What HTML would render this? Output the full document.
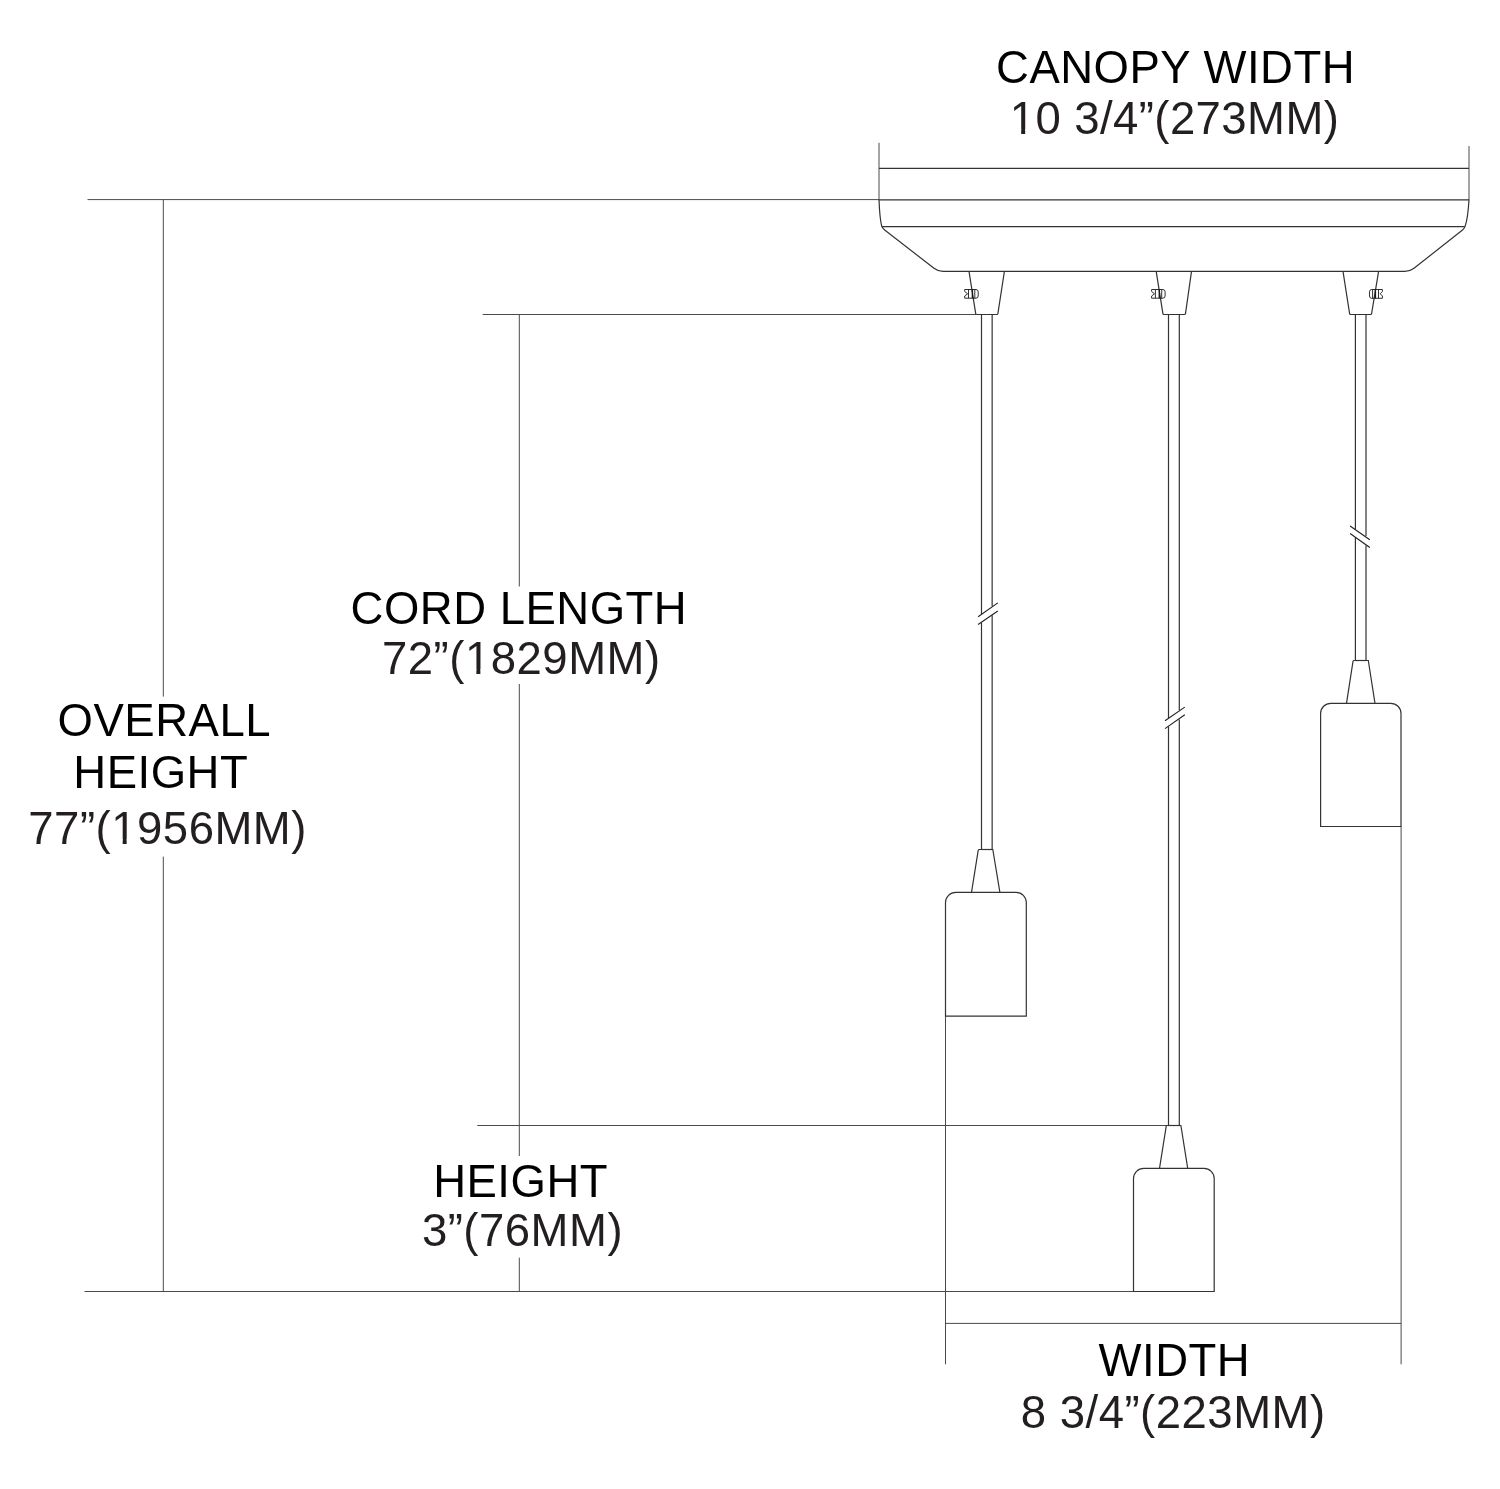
<!DOCTYPE html>
<html>
<head>
<meta charset="utf-8">
<title>Pendant dimensions</title>
<style>
html,body{margin:0;padding:0;background:#fff;}
body{width:1500px;height:1489px;overflow:hidden;font-family:"Liberation Sans",sans-serif;}
svg{display:block;position:absolute;left:0;top:0;will-change:transform;}
.l{fill:none;stroke:#333;stroke-width:1.2;}
.d{fill:none;stroke:#222;stroke-width:1.15;}
.s{fill:none;stroke:#1a1a1a;stroke-width:0.9;stroke-linejoin:miter;}
.x{fill:none;stroke:#4a4a4a;stroke-width:1;}
text{font-family:"Liberation Sans",sans-serif;font-size:45.5px;text-anchor:middle;letter-spacing:0.5px;}
.t1{fill:#000;}
.t2{fill:#231f20;}
</style>
</head>
<body>
<svg width="1500" height="1489" viewBox="0 0 1500 1489">
<rect width="1500" height="1489" fill="#fff"/>

<!-- dimension lines -->
<g class="x">
  <!-- overall height -->
  <path d="M87.5 199.6H879"/>
  <path d="M84.5 1291.5H1133.5"/>
  <path d="M163.3 199.6V696.6M163.3 856.6V1291.5"/>
  <!-- cord length / height -->
  <path d="M482.7 314.5H976"/>
  <path d="M477.3 1125.5H1167"/>
  <path d="M519.3 314.5V586.5M519.3 684V1156M519.3 1257.7V1291.5"/>
  <!-- width -->
  <path d="M945.5 1008.5V1364.3"/>
  <path d="M1401.1 826.5V1364.3"/>
  <path d="M945.5 1323.4H1401.1"/>
  <!-- canopy width ticks -->
  <path d="M879 142.8V200M1469 146.1V200"/>
</g>

<!-- canopy -->
<g class="l">
  <path d="M879 168.3H1469"/>
  <path d="M879 199.8H1469"/>
  <path d="M882 226.6H1464.8"/>
  <path d="M879 199.8C879.5 212 880.2 221 881.8 226.6Q882.8 228.6 885 230.2L934 268.3Q938 271.4 943 271.4H1405Q1410 271.4 1414 268.3L1462.2 230.2Q1464.2 228.6 1465 226.6C1467 221 1468.3 212 1469 199.8"/>
  <!-- cones -->
  <path d="M969 271.4L975.7 313.6Q975.8 314.5 976.7 314.5H996.8Q997.7 314.5 997.9 313.6L1004.4 271.4"/>
  <path d="M1156.2 271.4L1162.9 313.6Q1163 314.5 1163.9 314.5H1184.4Q1185.3 314.5 1185.5 313.6L1191.5 271.4"/>
  <path d="M1343 271.4L1349.6 313.6Q1349.7 314.5 1350.6 314.5H1370.5Q1371.4 314.5 1371.6 313.6L1378.6 271.4"/>
</g>

<!-- cords -->
<g class="l">
  <path d="M981.5 314.5V614M981.5 622.7V849.5"/>
  <path d="M992.15 314.5V606.3M992.15 615.3V849.5"/>
  <path d="M1168.5 314.5V718M1168.5 726.4V1125.5"/>
  <path d="M1179.3 314.5V710.3M1179.3 719.4V1125.5"/>
  <path d="M1355.4 314.5V529.4M1355.4 537.4V660.5"/>
  <path d="M1366 314.5V536.1M1366 545.5V660.5"/>
</g>
<g class="d">
  <!-- break slashes -->
  <path d="M978.1 616.7L997.8 602.9M978.1 624.5L997.8 611"/>
  <path d="M1165 720.7L1184.8 707.1M1165 728.6L1184.8 714.7"/>
  <path d="M1350.1 526L1369.8 539.8M1350.1 533.5L1369.8 547.5"/>
</g>

<!-- pendants -->
<g class="l">
  <!-- left -->
  <path d="M971.5 892.4L978.2 850.3Q978.4 849.5 979.3 849.5H992.8L999.9 892.4"/>
  <path d="M981 849.5H992.6"/>
  <path d="M945.5 1016.1V902.6A10.2 10.2 0 0 1 955.7 892.4H1016.1A10.2 10.2 0 0 1 1026.3 902.6V1016.1Z"/>
  <!-- right -->
  <path d="M1346.5 703.3L1353 661.3Q1353.2 660.5 1354 660.5H1368.3L1375 703.3"/>
  <path d="M1354.9 660.5H1366.5"/>
  <path d="M1320.6 826.5V713.5A10.2 10.2 0 0 1 1330.8 703.3H1390.8A10.2 10.2 0 0 1 1401 713.5V826.5Z"/>
  <!-- middle -->
  <path d="M1159.5 1168.4L1166.2 1126.3Q1166.4 1125.5 1167.2 1125.5H1180.9L1187.7 1168.4"/>
  <path d="M1168 1125.5H1179.8"/>
  <path d="M1133.5 1291.5V1178.6A10.2 10.2 0 0 1 1143.7 1168.4H1204A10.2 10.2 0 0 1 1214.2 1178.6V1291.5Z"/>
</g>

<!-- screws -->
<g class="s">
  <path d="M964.7 289.5H976Q978.2 289.6 978.2 291.8V296Q978.2 298.2 976 298.2H964.7V296L967.6 293.8L964.7 291.5Z"/>
  <path d="M968.5 289.5V298.2M974.8 289.5V298.2"/>
  <path d="M972.4 289.5V298.2" stroke-width="1.4"/>
</g>
<g class="s" transform="translate(186.9 0)">
  <path d="M964.7 289.5H976Q978.2 289.6 978.2 291.8V296Q978.2 298.2 976 298.2H964.7V296L967.6 293.8L964.7 291.5Z"/>
  <path d="M968.5 289.5V298.2M974.8 289.5V298.2"/>
  <path d="M972.4 289.5V298.2" stroke-width="1.4"/>
</g>
<g class="s">
  <path d="M1382.4 289.5H1371.6Q1369.5 289.6 1369.5 291.8V296Q1369.5 298.3 1371.6 298.3H1382.4V296L1380.2 293.8L1382.4 291.5Z"/>
  <path d="M1372.6 289.5V298.3M1378.5 289.5V298.3"/>
  <path d="M1375.4 289.5V298.3" stroke-width="1.4"/>
</g>

<!-- text -->
<text class="t1" x="1175.6" y="83.3">CANOPY WIDTH</text>
<text class="t2" x="1174.5" y="134" style="letter-spacing:0.42px">10 3/4”(273MM)</text>
<text class="t1" x="518.9" y="623.7">CORD LENGTH</text>
<text class="t2" x="521.3" y="674.4">72”(1829MM)</text>
<text class="t1" x="164.3" y="735.9">OVERALL</text>
<text class="t1" x="160.8" y="787.7">HEIGHT</text>
<text class="t2" x="167.6" y="844.3">77”(1956MM)</text>
<text class="t1" x="520.6" y="1196.7">HEIGHT</text>
<text class="t2" x="522.5" y="1245.8">3”(76MM)</text>
<text class="t1" x="1174.4" y="1376.4">WIDTH</text>
<text class="t2" x="1173.2" y="1428.4">8 3/4”(223MM)</text>
<!-- hide foot serif of "1" (Arial-style one) -->
<g fill="#fff">
  <rect x="1012.18" y="128.90" width="8.98" height="6.00"/>
  <rect x="1025.18" y="128.90" width="8.62" height="6.00"/>
  <rect x="467.38" y="669.30" width="8.98" height="6.00"/>
  <rect x="480.37" y="669.30" width="8.62" height="6.00"/>
  <rect x="113.68" y="839.20" width="8.98" height="6.00"/>
  <rect x="126.67" y="839.20" width="8.62" height="6.00"/>
</g>
</svg>
</body>
</html>
